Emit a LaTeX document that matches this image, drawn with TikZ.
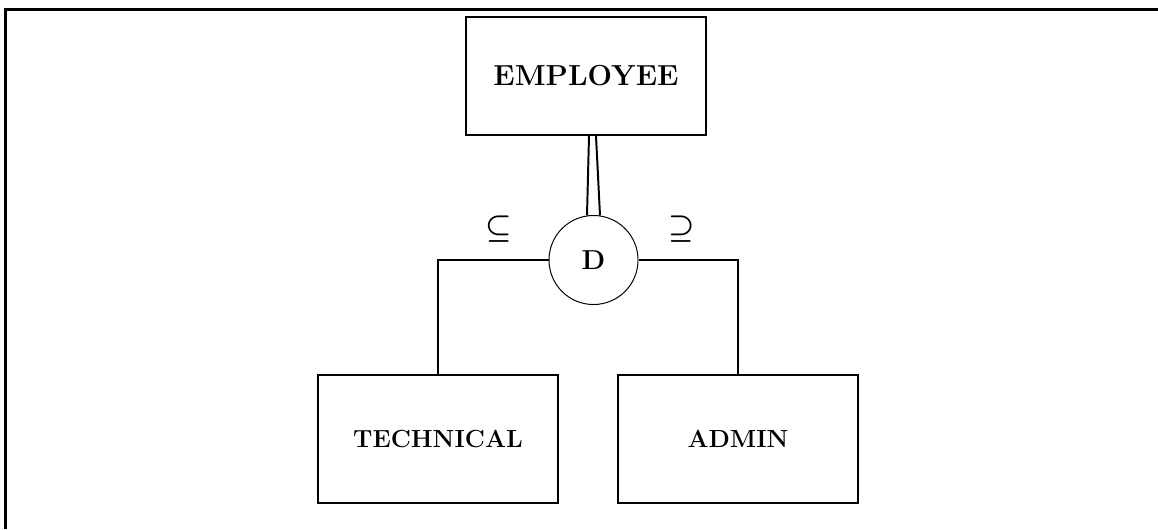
\documentclass[tikz,border=0pt]{standalone}
\usepackage{fontspec}
\usepackage{graphicx}
\usetikzlibrary{calc}
\begin{document}
\begin{tikzpicture}
[x=0.025cm,y=-0.025cm,
 entity/.style={draw,line width=1.4pt,minimum width=6cm,minimum height=3.2cm,
   font=\bfseries\fontsize{17.6}{20}\selectfont},
 disjoint/.style={draw,circle,line width=0.7pt,minimum size=2.225cm,inner sep=0pt,
   font=\bfseries\fontsize{19.5}{22}\selectfont},
 link/.style={line width=1.4pt},
 subsym/.style={inner sep=0pt}]

  \useasboundingbox (0,0) rectangle (1158,529);
  % frame, only its top and left edges are in view
  \draw[line width=2.2pt] (5.5,529) -- (5.5,9.5) -- (1158,9.5);

  \node[entity,minimum height=2.95cm,font=\bfseries\fontsize{20.6}{24}\selectfont]
    (employee) at (586,76) {EMPLOYEE};
  \node[disjoint] (d) at (593.5,260) {D};
  \node[entity] (technical) at (438,439) {TECHNICAL};
  \node[entity] (admin) at (738,439) {ADMIN};

  % total participation: double line
  \coordinate (el) at ($(employee.south)+(3,0)$);
  \coordinate (er) at ($(employee.south)+(10,0)$);
  \coordinate (dl) at ($(d.north)+(-6.5,0.5)$);
  \coordinate (dr) at ($(d.north)+(6.5,0.5)$);
  \draw[link] (el) -- (dl);
  \draw[link] (er) -- (dr);

  \draw[link] (d.west) -| (technical.north);
  \draw[link] (d.east) -| (admin.north);

  \node[subsym] (subl) at (498.5,229.5) {\scalebox{2.1}{\boldmath$\subseteq$}};
  \node[subsym] (subr) at (681.5,229.5) {\scalebox{2.1}{\boldmath$\supseteq$}};
\end{tikzpicture}
\end{document}
